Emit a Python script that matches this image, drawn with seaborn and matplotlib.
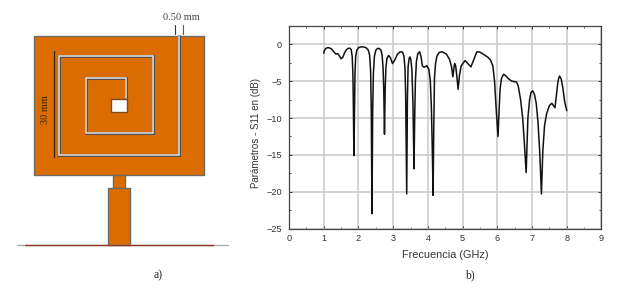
import matplotlib
matplotlib.use("Agg")
import matplotlib.pyplot as plt
from matplotlib.patches import Rectangle
from matplotlib.ticker import MultipleLocator
import pandas as pd
import seaborn as sns

W, H = 618, 291

freq = [1.0, 1.02, 1.05, 1.1, 1.15, 1.22, 1.3, 1.35, 1.4, 1.45, 1.5, 1.55, 1.6, 1.65, 1.7, 1.75, 1.79, 1.82,
        1.84, 1.85, 1.87, 1.89, 1.9, 1.92, 1.95, 2.0, 2.08, 2.15, 2.22, 2.28, 2.32, 2.35, 2.37, 2.39, 2.41, 2.43,
        2.46, 2.5, 2.55, 2.6, 2.65, 2.68, 2.71, 2.73, 2.75, 2.77, 2.79, 2.82, 2.87, 2.92, 2.98, 3.05, 3.12,
        3.2, 3.27, 3.31, 3.34, 3.36, 3.39, 3.41, 3.43, 3.46, 3.48, 3.51, 3.54, 3.57, 3.6, 3.62, 3.64, 3.67,
        3.71, 3.76, 3.8, 3.84, 3.89, 3.97, 4.03, 4.07, 4.1, 4.13, 4.15, 4.17, 4.19, 4.22, 4.26, 4.32, 4.41,
        4.53, 4.62, 4.68, 4.72, 4.75, 4.77, 4.8, 4.84, 4.87, 4.91, 4.96, 5.07, 5.17, 5.24, 5.31, 5.41, 5.5,
        5.62, 5.73, 5.8, 5.87, 5.92, 5.97, 6.02, 6.05, 6.08, 6.12, 6.18, 6.25, 6.33, 6.42, 6.55, 6.6, 6.67,
        6.73, 6.78, 6.83, 6.86, 6.88, 6.93, 6.97, 7.02, 7.07, 7.12, 7.17, 7.22, 7.27, 7.31, 7.36, 7.42, 7.5,
        7.57, 7.63, 7.66, 7.7, 7.75, 7.79, 7.84, 7.89, 7.94, 8.0]
s11 = [-1.2, -0.85, -0.6, -0.45, -0.45, -0.6, -1.05, -1.3, -1.25, -1.55, -1.95, -1.75, -1.15, -0.75, -0.55, -0.5, -0.7, -1.6,
       -4, -7, -15.1, -7, -4, -1.7, -0.8, -0.45, -0.32, -0.35, -0.45, -0.75, -1.4, -3.5, -9, -23, -9, -4,
       -1.6, -0.8, -0.55, -0.55, -0.8, -1.4, -3.2, -6.5, -12.2, -6, -3.2, -1.9, -1.5, -1.8, -2.6, -2.1, -1.35,
       -1.0, -1.05, -1.6, -3.2, -7, -20.3, -7.5, -3, -1.9, -1.7, -2.1, -3.5, -8, -16.9, -10, -5, -2.3,
       -1.25, -1.0, -1.6, -2.9, -3.1, -2.9, -3.4, -5, -8.5, -15, -20.5, -11, -4.5, -2.6, -1.6, -1.1, -1.0,
       -1.3, -2.0, -3.0, -4.4, -3.2, -2.6, -2.9, -4.6, -6.1, -4.2, -2.9, -2.2, -2.7, -3.05, -2.2, -1.0, -1.05,
       -1.4, -1.75, -2.1, -2.9, -5, -9, -12.5, -9, -6, -4.6, -4.05, -4.3, -4.7, -5.0, -5.1, -5.6, -7.5,
       -10, -13.5, -17.4, -13, -10, -7.5, -6.5, -6.3, -6.8, -8, -10.5, -14.5, -20.3, -14.5, -11, -9.4, -8.3,
       -8.0, -8.4, -8.6, -7, -4.9, -4.3, -4.7, -6.0, -7.8, -9.0]

# antenna outline, in picture pixels
slot_x = [179, 179, 59, 59, 153, 153, 86, 86, 126, 126]
slot_y = [36, 155, 155, 56, 56, 133, 133, 78, 78, 98]

sns.set_style("ticks")
plt.rcParams["font.family"] = ["Liberation Sans", "DejaVu Sans"]

fig = plt.figure(figsize=(W / 100, H / 100), dpi=100)

# Left: antenna drawing
bg = fig.add_axes([0, 0, 1, 1])
bg.set_xlim(0, W)
bg.set_ylim(H, 0)
bg.axis("off")

copper = "#DB6D00"
edge = "#6e6a66"
bg.add_patch(Rectangle((34, 36), 170, 139, fc=copper, ec=edge, lw=1))
bg.add_patch(Rectangle((113, 175), 12, 13, fc=copper, ec=edge, lw=1))
bg.add_patch(Rectangle((108, 188), 22, 57, fc=copper, ec=edge, lw=1))
bg.plot(slot_x, slot_y, color="#55504c", lw=2.2, solid_joinstyle="miter")
bg.plot(slot_x, slot_y, color="#e4e4e4", lw=1.1, solid_joinstyle="miter")
bg.add_patch(Rectangle((111, 99), 16, 13, fc="white", ec="#7a4a20", lw=1))
bg.plot([17, 228], [245, 245], color="#aaaaaa", lw=1)
bg.plot([25, 213], [245, 245], color="#8a3a20", lw=1)
bg.plot([54, 54], [51, 157], color="#3a2208", lw=0.9)
bg.plot([175, 175], [25, 34], color="#333333", lw=0.8)
bg.plot([183, 183], [25, 34], color="#555555", lw=0.8)
bg.text(45, 110, "30 mm", rotation=90, ha="center", va="center", fontsize=7.5, family="Liberation Serif", color="#3a2208")
bg.text(181, 17, "0.50 mm", ha="center", va="center", fontsize=7.5, family="Liberation Serif", color="#444444")
bg.text(158, 275, "a)", ha="center", va="center", fontsize=8.5, family="Liberation Serif")
bg.text(470, 275, "b)", ha="center", va="center", fontsize=8.5, family="Liberation Serif")

# Right: S11 curve
ax = fig.add_axes([289 / W, 1 - 228.5 / H, (601.5 - 289) / W, (228.5 - 26) / H])
df = pd.DataFrame({"freq": freq, "s11": s11})
sns.lineplot(data=df, x="freq", y="s11", color="#111111", lw=1.1, sort=False, estimator=None, ax=ax, zorder=3)
ax.set_xlim(0, 9)
ax.set_ylim(-25, 2.5)
ax.xaxis.set_major_locator(MultipleLocator(1))
ax.xaxis.set_minor_locator(MultipleLocator(0.5))
ax.yaxis.set_major_locator(MultipleLocator(5))
ax.yaxis.set_minor_locator(MultipleLocator(2.5))
ax.grid(True, which="major", color="#c8c8c8", lw=1.1)
ax.set_axisbelow(True)
ax.tick_params(which="major", direction="in", length=2.5, width=0.7, labelsize=6.6, top=True, right=True, color="#333333", labelcolor="#333333")
ax.tick_params(axis="x", which="major", pad=4)
ax.tick_params(axis="y", which="major", pad=5)
ax.tick_params(which="minor", direction="in", length=1.5, width=0.6, top=True, right=True, color="#333333")
for s in ax.spines.values():
    s.set_color("#444444")
    s.set_linewidth(0.9)
ax.set_xlabel("Frecuencia (GHz)", fontsize=7.8, color="#333333", labelpad=5)
ax.set_ylabel("Parámetros - S11 en (dB)", fontsize=7, color="#333333")
ax.yaxis.set_label_coords((261 - 289) / (601.5 - 289), 0.47)

fig.savefig("out.png", dpi=100)
